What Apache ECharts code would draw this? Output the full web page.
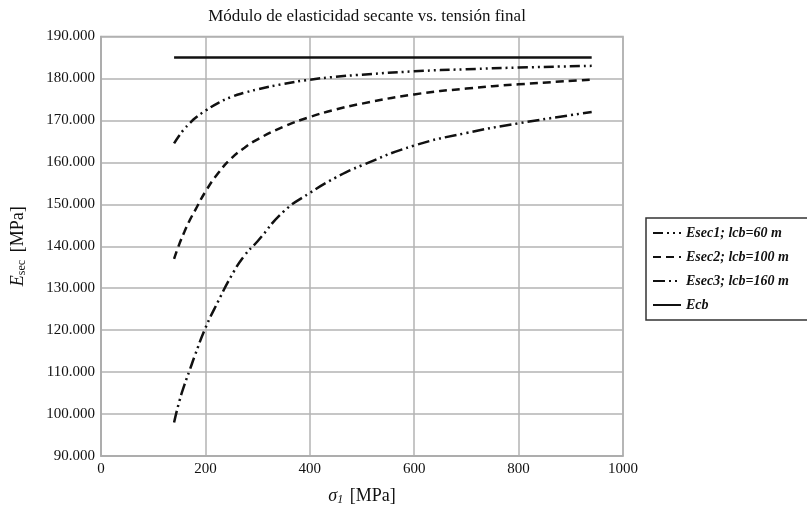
<!DOCTYPE html>
<html>
<head>
<meta charset="utf-8">
<script src="https://cdn.jsdelivr.net/npm/echarts@6/dist/echarts.min.js"></script>
<style>html,body{margin:0;padding:0;background:#fff}#c{width:807px;height:511px}</style>
</head>
<body>
<div id="c"></div>
<script>
const xs = [140, 150, 160, 170, 180, 200, 225, 250, 275, 300, 350, 400, 450, 500, 600, 700, 800, 940];
const esec1 = [164500, 166400, 168000, 169300, 170500, 172300, 174200, 175600, 176600, 177400, 178700, 179700, 180400, 180900, 181700, 182200, 182600, 183000];
const esec2 = [137000, 140500, 143500, 146200, 148500, 153000, 157500, 161000, 163500, 165500, 168500, 170800, 172600, 174000, 176200, 177600, 178600, 179700];
const esec3 = [98000, 103000, 107000, 110500, 114000, 120500, 127000, 133000, 137800, 141200, 148300, 152700, 156400, 159300, 164000, 167000, 169300, 172000];
const ecbX = [140, 940];
const ecb = [185000, 185000];
const names = ['Esec1; lcb=60 m', 'Esec2; lcb=100 m', 'Esec3; lcb=160 m', 'Ecb'];

const pair = (xarr, yarr) => xarr.map((x, i) => [x, yarr[i]]);
const serif = 'Liberation Serif';
const chart = echarts.init(document.getElementById('c'));
chart.setOption({
  animation: false,
  color: ['#111', '#111', '#111', '#111'],
  title: {
    text: 'Módulo de elasticidad secante vs. tensión final',
    left: 362, top: 3, textAlign: 'center',
    textStyle: {fontFamily: serif, fontSize: 17, fontWeight: 'normal', color: '#111'}
  },
  legend: {
    orient: 'vertical', left: 646, top: 218,
    data: names,
    itemWidth: 28, itemHeight: 12, itemGap: 10,
    itemStyle: {opacity: 0},
    padding: [8, 50, 8, 6],
    borderColor: '#333', borderWidth: 1.5,
    textStyle: {fontFamily: serif, fontStyle: 'italic', fontWeight: 'bold', fontSize: 14, color: '#111'}
  },
  grid: {left: 101, right: 184, top: 36.5, bottom: 54, show: true, borderColor: '#aaa', borderWidth: 1.5},
  xAxis: {
    type: 'value', min: 0, max: 1000, interval: 200,
    name: '{i|σ}{s|1} [MPa]', nameLocation: 'middle', nameGap: 30,
    nameTextStyle: {fontFamily: serif, fontSize: 18, color: '#111',
      rich: {i: {fontFamily: serif, fontStyle: 'italic', fontSize: 18, color: '#111'},
             s: {fontFamily: serif, fontStyle: 'italic', fontSize: 12, color: '#111', verticalAlign: 'bottom', padding: [8, 2, 0, 0]}}},
    axisLine: {lineStyle: {color: '#aaa', width: 1.5}},
    axisTick: {show: false},
    splitLine: {lineStyle: {color: '#b3b3b3', width: 1.5}},
    axisLabel: {fontFamily: serif, fontSize: 15, color: '#111', margin: 6, formatter: v => String(v)}
  },
  yAxis: {
    type: 'value', min: 90000, max: 190000, interval: 10000,
    name: '{i|E}{s|sec} [MPa]', nameLocation: 'middle', nameGap: 73,
    nameTextStyle: {fontFamily: serif, fontSize: 18, color: '#111',
      rich: {i: {fontFamily: serif, fontStyle: 'italic', fontSize: 18, color: '#111'},
             s: {fontFamily: serif, fontSize: 12, color: '#111', verticalAlign: 'bottom', padding: [8, 3, 0, 0]}}},
    axisLine: {show: true, lineStyle: {color: '#aaa', width: 1.5}},
    axisTick: {show: false},
    splitLine: {lineStyle: {color: '#b3b3b3', width: 1.5}},
    axisLabel: {fontFamily: serif, fontSize: 15, color: '#111', margin: 6,
      formatter: v => (v / 1000).toFixed(3)}
  },
  series: [
    {name: names[0], type: 'line', smooth: true, symbol: 'none', data: pair(xs, esec1),
     lineStyle: {color: '#111', width: 2.5, type: [10, 4, 2, 4, 2, 4]}},
    {name: names[1], type: 'line', smooth: true, symbol: 'none', data: pair(xs, esec2),
     lineStyle: {color: '#111', width: 2.5, type: [8, 5]}},
    {name: names[2], type: 'line', smooth: true, symbol: 'none', data: pair(xs, esec3),
     lineStyle: {color: '#111', width: 2.5, type: [12, 4, 2, 4, 2, 4]}},
    {name: names[3], type: 'line', symbol: 'none', data: pair(ecbX, ecb),
     lineStyle: {color: '#111', width: 2.5, type: 'solid'}}
  ]
});
</script>
</body>
</html>
